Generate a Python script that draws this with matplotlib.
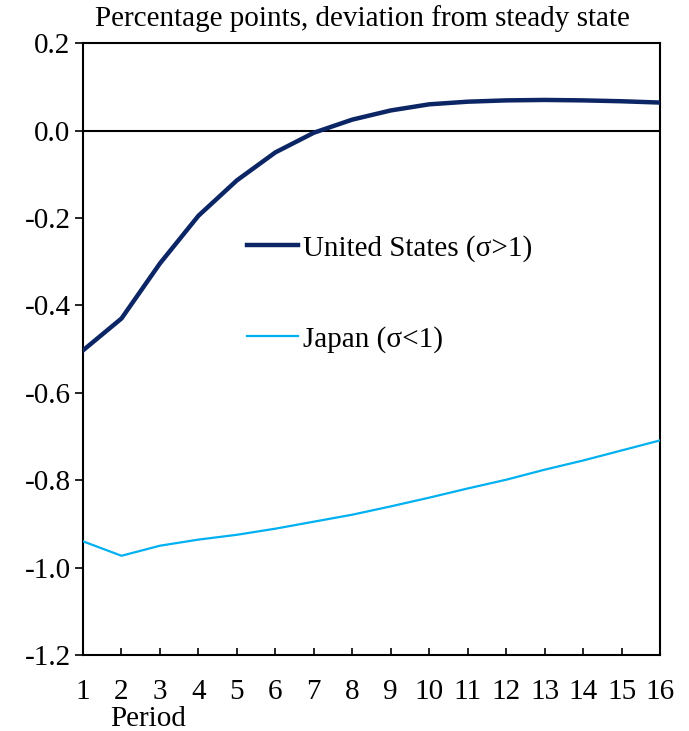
import matplotlib.pyplot as plt

# Данные
periods = list(range(1, 17))
us = [-0.503, -0.43, -0.304, -0.195, -0.114, -0.05, -0.005, 0.025,
      0.046, 0.06, 0.066, 0.069, 0.07, 0.069, 0.067, 0.064]
japan = [-0.94, -0.973, -0.95, -0.936, -0.925, -0.911, -0.895, -0.879,
         -0.86, -0.84, -0.819, -0.799, -0.776, -0.755, -0.732, -0.709]
yticks = [0.2, 0.0, -0.2, -0.4, -0.6, -0.8, -1.0, -1.2]

plt.rcParams['font.family'] = ['Liberation Serif', 'DejaVu Serif']

fig = plt.figure(figsize=(6.89, 7.31), dpi=100)
ax = fig.add_axes([0.1205, 0.104, 0.8375, 0.837])

ax.axhline(0, color='black', lw=1.5, zorder=1)
ax.plot(periods, us, color='#0b2565', lw=3.2, label='United States (σ>1)', zorder=3)
ax.plot(periods, japan, color='#00b0f0', lw=1.6, label='Japan (σ<1)', zorder=3)

ax.set_xlim(1, 16)
ax.set_ylim(-1.2, 0.2)
ax.set_xticks(periods)
ax.set_yticks(yticks)
ax.set_yticklabels([f'{v:.1f}' for v in yticks])
ax.tick_params(axis='x', direction='in', length=5, width=1.2, labelsize=21, pad=17)
ax.tick_params(axis='y', direction='out', length=6, width=1.2, labelsize=21, pad=3)
for s in ax.spines.values():
    s.set_linewidth(1.5)

ax.set_title('Percentage points, deviation from steady state', fontsize=21, pad=12, x=0.485)
ax.text(0.047, -0.104, 'Period', transform=ax.transAxes, fontsize=21, va='center')

ax.legend(loc='upper left', bbox_to_anchor=(0.238, 0.73), frameon=False,
          fontsize=21, handlelength=1.75, handletextpad=0.2, labelspacing=2.2)

fig.savefig('out.png', dpi=100)
